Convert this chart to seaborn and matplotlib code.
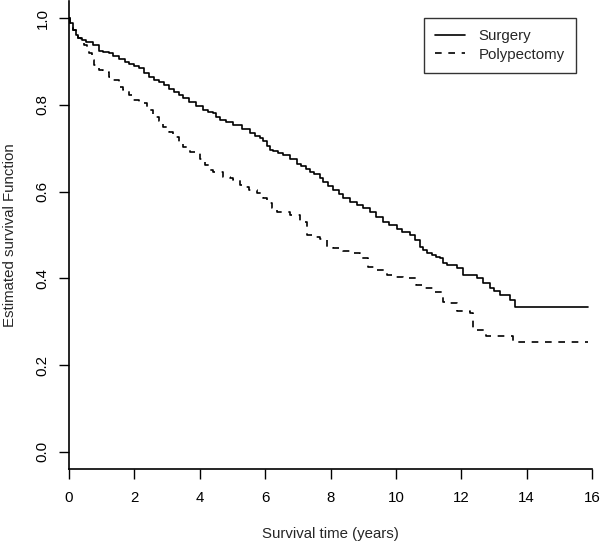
import numpy as np
import pandas as pd
import matplotlib
matplotlib.use("Agg")
import matplotlib.pyplot as plt
import seaborn as sns
from matplotlib.lines import Line2D

# Kaplan-Meier estimates
surgery_t = [0.0, 0.04, 0.11, 0.2, 0.27, 0.4, 0.52, 0.72, 0.93, 1.05, 1.23, 1.35, 1.54, 1.7,
             1.84, 2.0, 2.15, 2.3, 2.46, 2.6, 2.76, 2.9, 3.07, 3.2, 3.37, 3.5, 3.68, 3.9,
             4.11, 4.25, 4.41, 4.5, 4.62, 4.8, 5.02, 5.3, 5.54, 5.7, 5.84, 5.94, 6.05,
             6.15, 6.25, 6.4, 6.55, 6.75, 6.96, 7.1, 7.25, 7.37, 7.5, 7.68, 7.78, 7.93,
             8.08, 8.25, 8.39, 8.6, 8.8, 9.0, 9.2, 9.4, 9.61, 9.8, 10.02, 10.2, 10.43,
             10.6, 10.73, 10.84, 10.94, 11.1, 11.24, 11.35, 11.45, 11.55, 11.86, 12.06,
             12.47, 12.67, 12.87, 13.0, 13.18, 13.49, 13.64, 15.88]
surgery_s = [1.0, 0.99, 0.973, 0.962, 0.954, 0.95, 0.946, 0.938, 0.925, 0.923, 0.919, 0.913,
             0.906, 0.9, 0.894, 0.89, 0.885, 0.875, 0.865, 0.858, 0.854, 0.846, 0.838,
             0.831, 0.823, 0.817, 0.808, 0.798, 0.788, 0.785, 0.781, 0.773, 0.765, 0.76,
             0.754, 0.745, 0.735, 0.729, 0.723, 0.716, 0.706, 0.696, 0.693, 0.689, 0.685,
             0.675, 0.665, 0.66, 0.652, 0.646, 0.64, 0.631, 0.623, 0.613, 0.604, 0.595,
             0.585, 0.577, 0.569, 0.562, 0.554, 0.542, 0.531, 0.523, 0.515, 0.508, 0.5,
             0.488, 0.473, 0.465, 0.458, 0.454, 0.45, 0.446, 0.435, 0.431, 0.423, 0.408,
             0.4, 0.389, 0.377, 0.37, 0.362, 0.35, 0.335, 0.335]

polyp_t = [0.0, 0.04, 0.11, 0.2, 0.27, 0.37, 0.47, 0.55, 0.62, 0.7, 0.77, 0.93, 1.05, 1.23,
           1.35, 1.54, 1.66, 1.84, 1.97, 2.15, 2.38, 2.58, 2.75, 2.88, 3.05, 3.19, 3.35,
           3.5, 3.7, 4.0, 4.15, 4.31, 4.41, 4.72, 4.92, 5.02, 5.23, 5.33, 5.5, 5.74, 5.94,
           6.05, 6.2, 6.35, 6.76, 7.06, 7.27, 7.47, 7.68, 7.88, 8.08, 8.39, 8.69, 8.9,
           9.15, 9.4, 9.72, 10.0, 10.23, 10.63, 10.9, 11.14, 11.45, 11.65, 11.86, 12.26,
           12.37, 12.77, 13.59, 15.88]
polyp_s = [1.0, 0.99, 0.973, 0.962, 0.954, 0.947, 0.938, 0.928, 0.919, 0.905, 0.892, 0.881,
           0.877, 0.865, 0.858, 0.842, 0.835, 0.823, 0.811, 0.804, 0.788, 0.773, 0.764,
           0.75, 0.738, 0.727, 0.715, 0.704, 0.692, 0.675, 0.662, 0.65, 0.646, 0.635,
           0.631, 0.627, 0.615, 0.611, 0.604, 0.596, 0.585, 0.573, 0.562, 0.554, 0.546,
           0.531, 0.5, 0.495, 0.49, 0.473, 0.469, 0.463, 0.458, 0.446, 0.427, 0.42, 0.408,
           0.404, 0.4, 0.385, 0.377, 0.369, 0.346, 0.342, 0.325, 0.319, 0.281, 0.267,
           0.254, 0.254]

groups = ["Surgery", "Polypectomy"]
x_ticks = [0, 2, 4, 6, 8, 10, 12, 14, 16]
y_ticks = [0.0, 0.2, 0.4, 0.6, 0.8, 1.0]

df = pd.concat([
    pd.DataFrame({"time": surgery_t, "surv": surgery_s, "group": groups[0]}),
    pd.DataFrame({"time": polyp_t, "surv": polyp_s, "group": groups[1]}),
], ignore_index=True)

sns.set_style("ticks")
plt.rcParams["font.family"] = ["Liberation Sans", "DejaVu Sans"]
FS = 10.8

fig = plt.figure(figsize=(6.0, 5.42), dpi=100)
ax = fig.add_axes([69 / 600, 1 - 469 / 542, (592 - 69) / 600, (469 - 1) / 542])

sns.lineplot(data=df, x="time", y="surv", style="group", style_order=groups,
             dashes={"Surgery": "", "Polypectomy": (4, 4)}, color="black",
             drawstyle="steps-post", estimator=None, sort=False, linewidth=1.2,
             legend=False, ax=ax)

ax.set_xlim(0, 16)
ax.set_ylim(-0.04, 1.04)
ax.set_xticks(x_ticks)
ax.set_xticklabels([str(v) for v in x_ticks])
ax.set_yticks(y_ticks)
ax.set_yticklabels([f"{v:.1f}" for v in y_ticks], rotation=90, va="center")
ax.tick_params(axis="both", direction="out", length=7, width=1, color="black",
               labelsize=FS, labelcolor="black")
ax.tick_params(axis="x", pad=9)
ax.tick_params(axis="y", pad=7)
for side in ["top", "right"]:
    ax.spines[side].set_visible(False)
for side in ["left", "bottom"]:
    ax.spines[side].set_color("black")
    ax.spines[side].set_linewidth(1.2)

ax.set_xlabel("Survival time (years)", fontsize=FS, labelpad=16)
ax.set_ylabel("Estimated survival Function", fontsize=FS, labelpad=13)

handles = [Line2D([], [], color="black", lw=1.2),
           Line2D([], [], color="black", lw=1.2, dashes=(4, 4))]
leg = ax.legend(handles, groups, loc="upper right", bbox_to_anchor=(0.969, 0.964),
                borderaxespad=0, frameon=True, fancybox=False, fontsize=FS,
                handlelength=2.0, handletextpad=0.9, borderpad=0.75, labelspacing=0.3)
leg.get_frame().set_edgecolor("black")
leg.get_frame().set_linewidth(1.0)

fig.savefig("out.png", dpi=100)
